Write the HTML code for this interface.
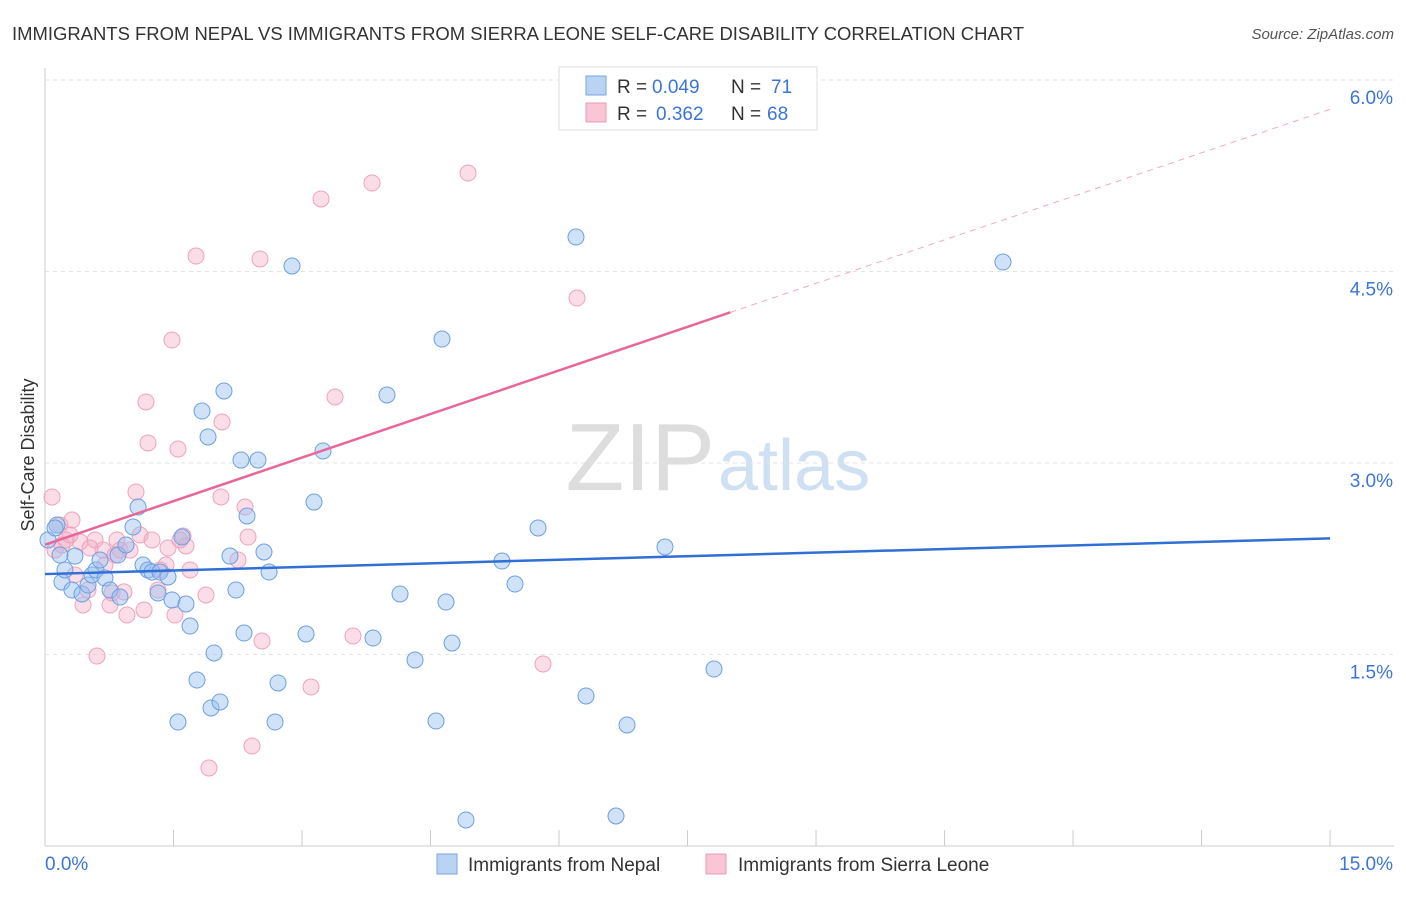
<!DOCTYPE html>
<html><head><meta charset="utf-8"><style>
body{margin:0;background:#fff;font-family:"Liberation Sans",sans-serif;}
svg text{font-family:"Liberation Sans",sans-serif;}
</style></head><body>
<svg id="c" width="1406" height="892">
<text x="12" y="40" font-size="18" textLength="1012" lengthAdjust="spacingAndGlyphs" fill="#333">IMMIGRANTS FROM NEPAL VS IMMIGRANTS FROM SIERRA LEONE SELF-CARE DISABILITY CORRELATION CHART</text>
<text x="1394" y="39" font-size="15" fill="#555" font-style="italic" text-anchor="end">Source: ZipAtlas.com</text>
<text x="715" y="490" font-size="96" fill="#ddd" text-anchor="end" font-family="Liberation Serif">ZIP</text>
<text x="718" y="490" font-size="72" fill="#cfe0f3">atlas</text>
<text x="34" y="455" font-size="18" fill="#333" text-anchor="middle" transform="rotate(-90 34 455)">Self-Care Disability</text>
<g id="grid"></g><g id="pts"></g><g id="lines"></g>
<g>
<rect x="559" y="67" width="258" height="63" fill="#fff" stroke="#ddd"/>
<rect x="586" y="76" width="20" height="19" fill="#b9d3f3" stroke="#7aa6e0"/>
<rect x="586" y="103" width="20" height="19" fill="#f9c6d6" stroke="#ec9ab5"/>
<text x="617" y="93" font-size="19" fill="#333">R =</text>
<text x="652" y="93" font-size="19" fill="#3b76d6">0.049</text>
<text x="731" y="93" font-size="19" fill="#333">N =</text>
<text x="771" y="93" font-size="19" fill="#3b76d6">71</text>
<text x="617" y="120" font-size="19" fill="#333">R =</text>
<text x="656" y="120" font-size="19" fill="#3b76d6">0.362</text>
<text x="731" y="120" font-size="19" fill="#333">N =</text>
<text x="767" y="120" font-size="19" fill="#3b76d6">68</text>
</g>
<g>
<rect x="437" y="854" width="20" height="20" fill="#b9d3f3" stroke="#7aa6e0"/>
<text x="468" y="871" font-size="19" fill="#333">Immigrants from Nepal</text>
<rect x="706" y="854" width="20" height="20" fill="#f9c6d6" stroke="#ec9ab5"/>
<text x="738" y="871" font-size="19" fill="#333">Immigrants from Sierra Leone</text>
</g>
</svg>
<script>
const xTicks=[0,1.5,3,4.5,6,7.5,9,10.5,12,13.5,15];
const yTicks=[1.5,3.0,4.5,6.0];
const nepalPx=[[57,525],[60,555],[62,582],[72,590],[75,556],[82,594],[88,585],[92,575],[96,570],[105,578],[110,590],[118,555],[120,597],[126,545],[133,527],[138,507],[143,565],[148,570],[152,572],[158,593],[160,572],[168,577],[172,600],[178,722],[182,537],[186,604],[190,626],[197,680],[202,411],[208,437],[211,708],[214,653],[220,702],[224,391],[230,556],[236,590],[241,460],[244,633],[247,516],[258,460],[264,552],[269,572],[278,683],[275,722],[292,266],[306,634],[314,502],[323,451],[373,638],[387,395],[400,594],[415,660],[436,721],[442,339],[446,602],[452,643],[466,820],[502,561],[515,584],[538,528],[576,237],[586,696],[616,816],[627,725],[665,547],[714,669],[1003,262],[48,540],[55,528],[65,570],[100,560]];
const sierraPx=[[52,497],[55,550],[60,525],[66,540],[72,520],[80,542],[83,605],[88,590],[95,540],[97,656],[103,550],[110,605],[112,593],[117,540],[120,550],[124,592],[127,615],[130,550],[136,492],[140,535],[144,610],[146,402],[148,443],[152,540],[158,590],[166,565],[172,340],[175,615],[178,449],[183,536],[186,546],[196,256],[206,595],[209,768],[221,497],[222,422],[238,560],[245,507],[248,537],[252,746],[260,259],[262,641],[311,687],[321,199],[335,397],[353,636],[372,183],[468,173],[543,664],[577,298],[62,545],[70,535],[90,548],[115,555],[160,570],[168,548],[180,540],[190,570],[75,575],[105,565]];
const nepalX=nepalPx.map(p=>+((p[0]-45)/85.67).toFixed(3));
const nepalY=nepalPx.map(p=>+((846-p[1])/127.67).toFixed(3));
const sierraX=sierraPx.map(p=>+((p[0]-45)/85.67).toFixed(3));
const sierraY=sierraPx.map(p=>+((846-p[1])/127.67).toFixed(3));
const nepalTrend=[2.13,2.41];
const sierraTrend=[2.36,4.18,5.77];
const sx=v=>45+v*85.67, sy=v=>846-v*127.67;
const NS='http://www.w3.org/2000/svg';
function mk(t,a,parent){const e=document.createElementNS(NS,t);for(const k in a)e.setAttribute(k,a[k]);document.getElementById(parent).appendChild(e);return e;}
let ax=mk('line',{x1:45,y1:846,x2:1394,y2:846,stroke:'#ccc'},'grid');


let ay=mk('line',{x1:45,y1:68,x2:45,y2:846,stroke:'#ccc'},'grid');


xTicks.forEach(v=>{const t=mk('line',{x1:sx(v),y1:830,x2:sx(v),y2:846,stroke:'#ccc'},'grid');

});
yTicks.forEach(v=>{const g=mk('line',{x1:45,y1:sy(v),x2:1394,y2:sy(v),stroke:'#e3e3e3','stroke-dasharray':'4 4'},'grid');


const t=mk('text',{x:1393,y:sy(v)+24,'font-size':19,fill:'#3b76d6','text-anchor':'end'},'grid');t.textContent=v.toFixed(1)+'%';

});
let l0=mk('text',{x:45,y:870,'font-size':19,fill:'#3b76d6'},'grid');l0.textContent='0.0%';


let l1=mk('text',{x:1393,y:870,'font-size':19,fill:'#3b76d6','text-anchor':'end'},'grid');l1.textContent='15.0%';


sierraX.forEach((x,i)=>{const c=mk('circle',{cx:sx(x),cy:sy(sierraY[i]),r:8,fill:'rgba(246,170,196,0.4)',stroke:'#eea3bd','stroke-width':1},'pts');

});
nepalX.forEach((x,i)=>{const c=mk('circle',{cx:sx(x),cy:sy(nepalY[i]),r:8,fill:'rgba(150,190,240,0.45)',stroke:'#6f9fe0','stroke-width':1},'pts');

});
let bl=mk('line',{x1:sx(0),y1:sy(nepalTrend[0]),x2:sx(15),y2:sy(nepalTrend[1]),stroke:'#2f6fd6','stroke-width':2.5},'lines');


let pl=mk('line',{x1:sx(0),y1:sy(sierraTrend[0]),x2:sx(8),y2:sy(sierraTrend[1]),stroke:'#e8679a','stroke-width':2.5},'lines');


let pd=mk('line',{x1:sx(8),y1:sy(sierraTrend[1]),x2:sx(15),y2:sy(sierraTrend[2]),stroke:'#eeaac4','stroke-width':1,'stroke-dasharray':'6 5'},'lines');


</script>
</body></html>
